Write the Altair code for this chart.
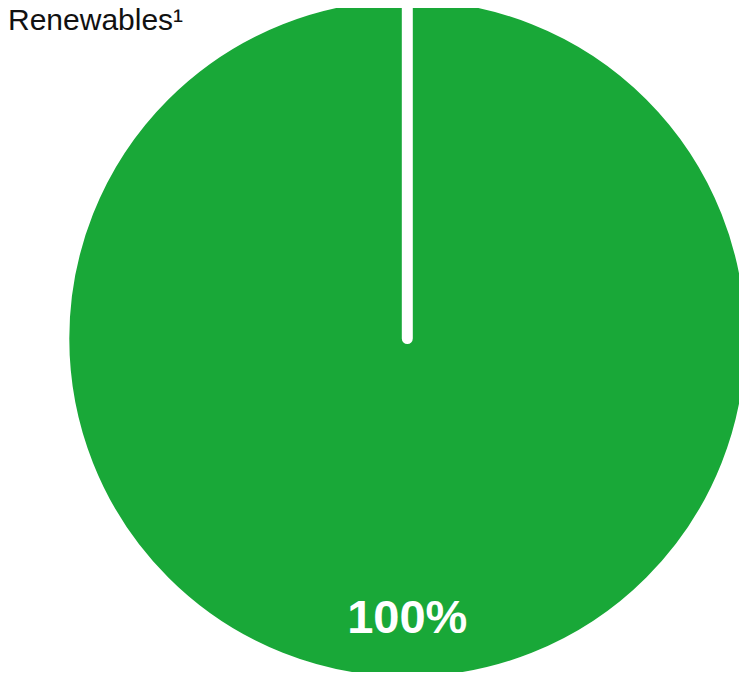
import altair as alt
import pandas as pd

categories = ["Renewables", "Other"]
labels = ["Renewables¹", "Other"]
shares = [100, 0]
rank = [1, 2]

df = pd.DataFrame({"category": categories, "label": labels, "share": shares, "rank": rank})

CX, CY = 399.3, 330.5
GREEN = "#19A838"

base = alt.Chart(df)

pie = base.mark_arc(
    radius=343.5,
    stroke="white",
    strokeWidth=11,
    strokeJoin="round",
    strokeCap="round",
).encode(
    theta=alt.Theta("share:Q", stack=True),
    order=alt.Order("rank:Q", sort="ascending"),
    color=alt.Color("category:N", scale=alt.Scale(domain=categories, range=[GREEN, "white"]), legend=None),
    x=alt.value(CX),
    y=alt.value(CY),
)

pct = base.transform_filter(alt.datum.share > 0).transform_calculate(
    txt="format(datum.share, '.0f') + '%'"
).mark_text(
    radius=294.5,
    font="Liberation Sans",
    fontSize=47,
    fontWeight="bold",
    color="white",
    align="center",
    baseline="alphabetic",
).encode(
    theta=alt.Theta("share:Q", stack=True),
    text="txt:N",
    x=alt.value(CX),
    y=alt.value(CY),
)

name = base.transform_filter(alt.datum.share > 0).mark_text(
    font="Liberation Sans",
    fontSize=30,
    color="#111111",
    align="left",
    baseline="alphabetic",
).encode(
    text="label:N",
    x=alt.value(0),
    y=alt.value(22.4),
)

chart = alt.layer(pie, pct, name).properties(
    width=731,
    height=664,
    autosize=alt.AutoSizeParams(type="none"),
    padding=0,
).configure_view(stroke=None)

chart.save("out.html", embed_options={"renderer": "svg", "actions": False})
